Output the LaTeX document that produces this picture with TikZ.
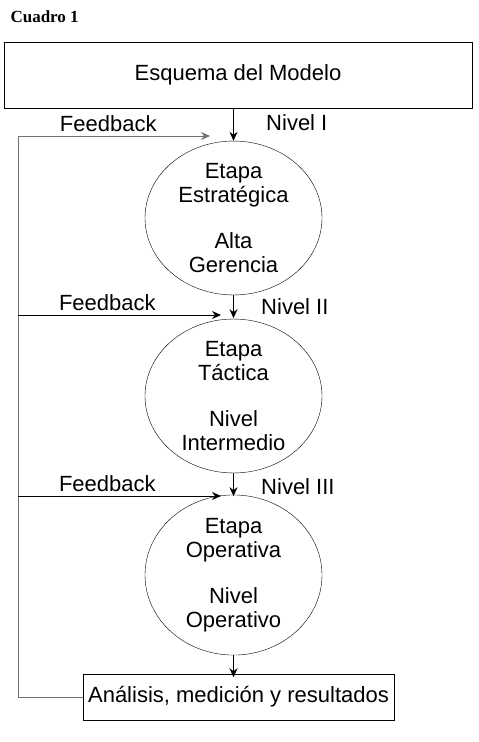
\documentclass[tikz,border=0pt]{standalone}
\usepackage{fontspec}
\setmainfont{Liberation Sans}
\newfontfamily\titlefont{Liberation Serif}
\usetikzlibrary{arrows.meta,positioning,shapes.geometric}

\begin{document}
\begin{tikzpicture}[x=1pt, y=-1pt,
  >={Stealth[length=9pt,width=8pt]},
  every node/.append style={align=center, font=\fontsize{22}{23.5}\selectfont},
  etapa/.style={draw, ellipse, thin, minimum width=177pt, minimum height=148pt, inner sep=0pt},
  caja/.style={draw, thick, inner sep=0pt},
  fb/.style={draw=gray!90!black, thick}]
 \useasboundingbox (0,0) rectangle (479,742);
 \node [anchor=base west, font=\titlefont\bfseries\fontsize{17}{19}\selectfont] (cuadro) at (7,22) {Cuadro 1};
 \node [caja, minimum width=468pt, minimum height=66pt] (M) at (238,75) {Esquema del Modelo};
 \node [etapa] (E1) at (233.5,218) {Etapa\\Estratégica\\[23pt]Alta\\Gerencia};
 \node [etapa] (E2) at (233.5,396) {Etapa\\Táctica\\[23pt]Nivel\\Intermedio};
 \node [etapa] (E3) at (233.5,575) {Etapa\\Operativa\\[23pt]Nivel\\Operativo};
 \node [caja, minimum width=311pt, minimum height=46pt] (A) at (238.5,697) {Análisis, medición y resultados};
 \coordinate (f1) at (210,136);
 \coordinate (f2) at (221,315);
 \coordinate (f3) at (221,496);
 \coordinate (c) at (18,697);
 % bajadas entre niveles
 \draw[->, thick] (M.south -| E1.north) -- (E1.north) node[pos=0.45, right=29pt] {Nivel I};
 \draw[->, thick] (E1.south) -- ++(0,23) node[pos=0.5, right=24pt] {Nivel II};
 \draw[->, thick] (E2.south) -- ++(0,23) node[pos=0.6, right=24pt] {Nivel III};
 \draw[->, thick] (E3.south) -- ++(0,22);
 % lazo de feedback
 \draw[fb] (A.west) -- (c) -- (c |- f1);
 \draw[fb, ->] (c |- f1) -- (f1) node[pos=0.47, above=1pt] {Feedback};
 \draw[->, thick] (c |- f2) -- (f2) node[pos=0.44, above=1pt] {Feedback};
 \draw[->, thick] (c |- f3) -- (f3) node[pos=0.44, above=1pt] {Feedback};
\end{tikzpicture}
\end{document}
